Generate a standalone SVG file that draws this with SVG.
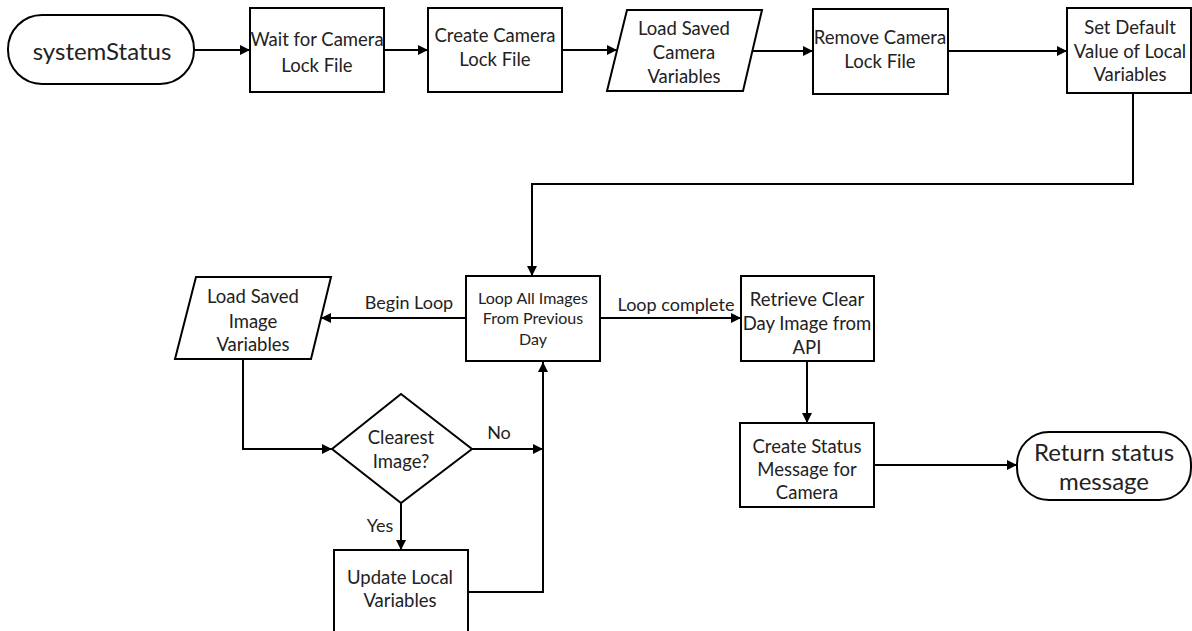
<svg xmlns="http://www.w3.org/2000/svg" width="1192" height="631" viewBox="0 0 1192 631">
  <defs>
    <marker id="arrow" viewBox="0 0 10 10" refX="10" refY="5" markerWidth="5" markerHeight="5" orient="auto" markerUnits="strokeWidth">
      <path d="M0,0 L10,5 L0,10 z" fill="#000"/>
    </marker>
    <style>
      .shape { fill: #fff; stroke: #000; stroke-width: 2; }
      .edge { fill: none; stroke: #000; stroke-width: 2; marker-end: url(#arrow); }
      text { font-family: Lato, "Open Sans", "Liberation Sans", sans-serif; fill: #222; text-anchor: middle; }
      .t { font-size: 18.5px; }
      .s { font-size: 16px; }
      .big { font-size: 24px; }
      .lbl { font-size: 18px; }
    </style>
  </defs>

  <rect width="1192" height="631" fill="#fff"/>

  <!-- connectors -->
  <g id="connectors">
    <path class="edge" d="M194,50 H250"/>
    <path class="edge" d="M384,50 H428"/>
    <path class="edge" d="M562,50 H617"/>
    <path class="edge" d="M752,51 H813"/>
    <path class="edge" d="M948,51 H1067"/>
    <path class="edge" d="M1133,93 V184 H532 V276"/>
    <path class="edge" d="M466,318 H321"/>
    <path class="edge" d="M600,318 H741"/>
    <path class="edge" d="M243,359 V449 H332"/>
    <path class="edge" d="M472,449 H543"/>
    <path class="edge" d="M401,503 V550"/>
    <path class="edge" d="M468,592 H543 V362"/>
    <path class="edge" d="M807,361 V423"/>
    <path class="edge" d="M874,465 H1017"/>
    <text class="lbl" x="409" y="309">Begin Loop</text>
    <text class="lbl" x="676" y="311">Loop complete</text>
    <text class="lbl" x="499" y="439">No</text>
    <text class="lbl" x="380" y="532">Yes</text>
  </g>

  <!-- top row -->
  <g id="systemStatus">
    <rect class="shape" x="8" y="15" width="186" height="69" rx="34" ry="34"/>
    <text class="big" x="102" y="60">systemStatus</text>
  </g>
  <g id="waitLock">
    <rect class="shape" x="250" y="8" width="134" height="84"/>
    <text class="t" x="317" y="46">Wait for Camera</text>
    <text class="t" x="317" y="72">Lock File</text>
  </g>
  <g id="createLock">
    <rect class="shape" x="428" y="8" width="134" height="84"/>
    <text class="t" x="495" y="42">Create Camera</text>
    <text class="t" x="495" y="66">Lock File</text>
  </g>
  <g id="loadCamera">
    <polygon class="shape" points="627,10 762,10 743,91 607,91"/>
    <text class="t" x="684" y="35">Load Saved</text>
    <text class="t" x="684" y="59">Camera</text>
    <text class="t" x="684" y="83">Variables</text>
  </g>
  <g id="removeLock">
    <rect class="shape" x="813" y="9" width="135" height="85"/>
    <text class="t" x="880" y="44">Remove Camera</text>
    <text class="t" x="880" y="68">Lock File</text>
  </g>
  <g id="setDefaults">
    <rect class="shape" x="1067" y="8" width="124" height="85"/>
    <text class="t" x="1130" y="34">Set Default</text>
    <text class="t" x="1130" y="58">Value of Local</text>
    <text class="t" x="1130" y="81">Variables</text>
  </g>

  <!-- loop section -->
  <g id="loopImages">
    <rect class="shape" x="466" y="276" width="134" height="85"/>
    <text class="s" x="533" y="304">Loop All Images</text>
    <text class="s" x="533" y="324">From Previous</text>
    <text class="s" x="533" y="345">Day</text>
  </g>
  <g id="loadImage">
    <polygon class="shape" points="196,277 331,277 311,359 175,359"/>
    <text class="t" x="253" y="303">Load Saved</text>
    <text class="t" x="253" y="328">Image</text>
    <text class="t" x="253" y="351">Variables</text>
  </g>
  <g id="clearest">
    <polygon class="shape" points="401,394 472,449 401,503 332,449"/>
    <text class="t" x="401" y="444">Clearest</text>
    <text class="t" x="401" y="468">Image?</text>
  </g>
  <g id="updateLocal">
    <rect class="shape" x="334" y="550" width="134" height="90"/>
    <text class="t" x="400" y="584">Update Local</text>
    <text class="t" x="400" y="607">Variables</text>
  </g>

  <!-- result section -->
  <g id="retrieveClear">
    <rect class="shape" x="741" y="276" width="133" height="85"/>
    <text class="t" x="807" y="306">Retrieve Clear</text>
    <text class="t" x="807" y="330">Day Image from</text>
    <text class="t" x="807" y="354">API</text>
  </g>
  <g id="createStatus">
    <rect class="shape" x="740" y="423" width="134" height="84"/>
    <text class="t" x="807" y="453">Create Status</text>
    <text class="t" x="807" y="476">Message for</text>
    <text class="t" x="807" y="499">Camera</text>
  </g>
  <g id="returnStatus">
    <rect class="shape" x="1017" y="432" width="174" height="68" rx="32" ry="32"/>
    <text class="big" x="1104" y="461">Return status</text>
    <text class="big" x="1104" y="490">message</text>
  </g>
</svg>
